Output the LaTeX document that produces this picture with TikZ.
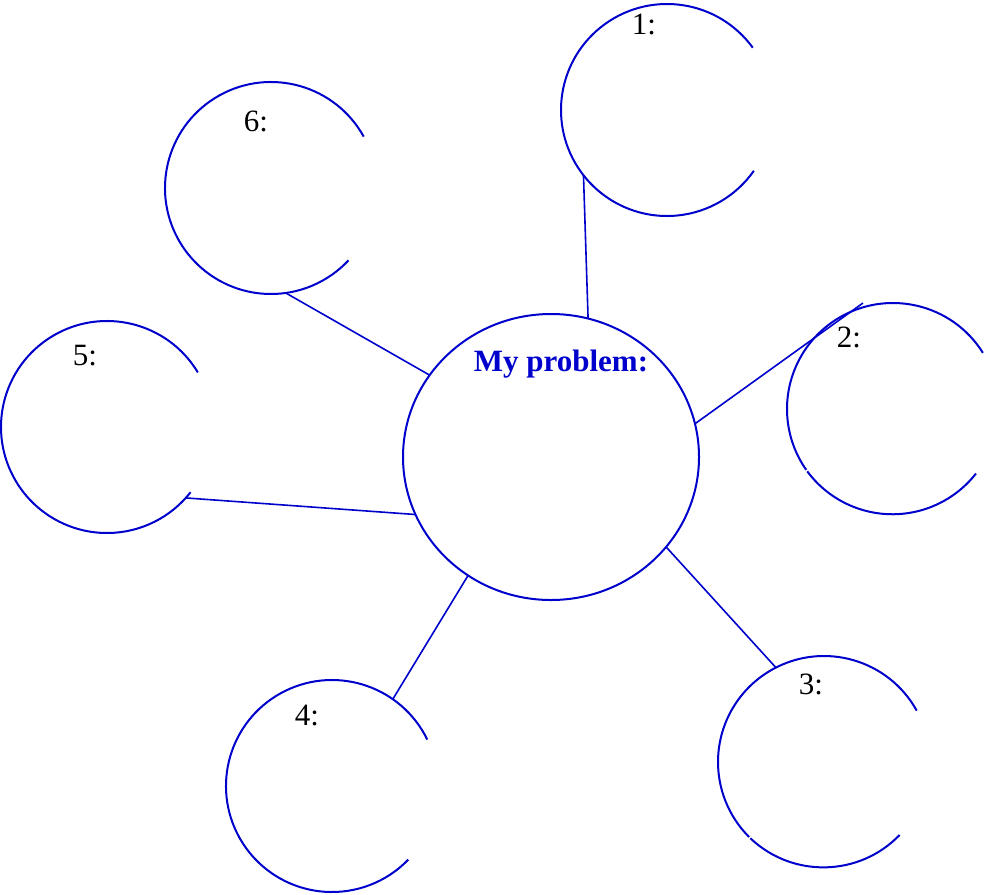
\documentclass[tikz,border=0pt]{standalone}
\usepackage{fontspec}
\setmainfont{Liberation Serif}
\usetikzlibrary{shapes.geometric}
\definecolor{mapblue}{RGB}{0, 0, 205}

\begin{document}
\begin{tikzpicture}[x=0.5pt, y=-0.5pt,
    idea/.style={circle, minimum size=106pt, inner sep=0pt, outer sep=0pt},
    hub/.style={ellipse, draw=mapblue, line width=1pt, minimum width=148pt,
                minimum height=143pt, inner sep=0pt, outer sep=0pt},
    rim/.style={mapblue, line width=1pt},
    link/.style={mapblue, line width=0.8pt},
    num/.style={inner sep=0pt, font=\fontsize{15.5}{18}\selectfont}
  ]
    \useasboundingbox (0,0) rectangle (988,894);

    \node[hub] (hub) at (551,457) {};
    \node[num, font=\fontsize{15.5}{18}\selectfont\bfseries, text=mapblue] (title) at (561,364) {My problem:};

    \node[idea] (c1) at (667,110) {};
    \node[idea] (c2) at (893,409) {};
    \node[idea] (c3) at (824,762) {};
    \node[idea] (c4) at (332,786) {};
    \node[idea] (c5) at (107,427) {};
    \node[idea] (c6) at (271,188) {};

    \node[num] (n1) at (644,24) {1:};
    \node[num] (n2) at (849,337) {2:};
    \node[num] (n3) at (811,684) {3:};
    \node[num] (n4) at (307,716) {4:};
    \node[num] (n5) at (85,356) {5:};
    \node[num] (n6) at (256,121) {6:};

    \draw[rim] (c1.36) arc[start angle=36, end angle=325, radius=53pt];
    \draw[rim] (c2.32) arc[start angle=32, end angle=215, radius=53pt];
    \draw[rim] (c2.216.5) arc[start angle=216.5, end angle=322, radius=53pt];
    \draw[rim] (c3.29) arc[start angle=29, end angle=225, radius=53pt];
    \draw[rim] (c3.226.5) arc[start angle=226.5, end angle=316, radius=53pt];
    \draw[rim] (c4.26) arc[start angle=26, end angle=316, radius=53pt];
    \draw[rim] (c5.31) arc[start angle=31, end angle=322, radius=53pt];
    \draw[rim] (c6.29) arc[start angle=29, end angle=317, radius=53pt];

    \coordinate (e2) at (863,303);

    \draw[link] (c1.218) -- (hub.75);
    \draw[link] (hub.13) -- (e2);
    \draw[link] (hub.-38) -- (c3.117);
    \draw[link] (hub.235) -- (c4.55);
    \draw[link] (c5.318) -- (hub.203);
    \draw[link] (c6.278) -- (hub.146);
\end{tikzpicture}
\end{document}
